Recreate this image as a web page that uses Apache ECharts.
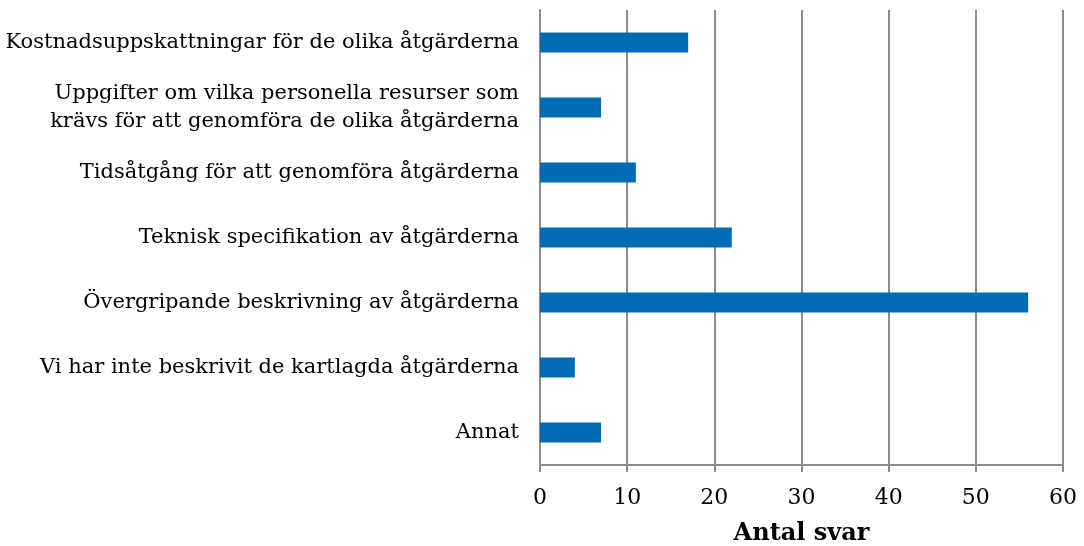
<!DOCTYPE html>
<html lang="sv">
<head>
<meta charset="UTF-8" />
<script src="https://cdn.jsdelivr.net/npm/echarts@6/dist/echarts.min.js"></script>
<style>
  html, body { margin: 0; padding: 0; background: #fff; }
  #chart { width: 1084px; height: 546px; }
</style>
</head>
<body>
<div id="chart"></div>
<script>
// kategorier uppifrån och ned
const categories = [
  'Kostnadsuppskattningar för de olika åtgärderna',
  'Uppgifter om vilka personella resurser som\nkrävs för att genomföra de olika åtgärderna',
  'Tidsåtgång för att genomföra åtgärderna',
  'Teknisk specifikation av åtgärderna',
  'Övergripande beskrivning av åtgärderna',
  'Vi har inte beskrivit de kartlagda åtgärderna',
  'Annat'
];
const values = [17, 7, 11, 22, 56, 4, 7];
const xTicks = [0, 10, 20, 30, 40, 50, 60];

const FONT = '"DejaVu Serif", "Liberation Serif", serif';
const GRID_COLOR = '#8c8c8c';

const chart = echarts.init(document.getElementById('chart'));
chart.setOption({
  animation: false,
  grid: { left: 540, right: 21, top: 10, bottom: 81, containLabel: false, outerBoundsMode: 'none' },
  xAxis: {
    type: 'value',
    min: xTicks[0],
    max: xTicks[xTicks.length - 1],
    interval: 10,
    name: 'Antal svar',
    nameLocation: 'middle',
    nameGap: 57,
    nameTextStyle: { fontFamily: FONT, fontSize: 24, fontWeight: 'bold', color: '#000' },
    axisLine: { show: true, lineStyle: { color: GRID_COLOR, width: 2 } },
    axisTick: { show: true, length: 7, lineStyle: { color: GRID_COLOR, width: 2 } },
    axisLabel: { fontFamily: FONT, fontSize: 22, color: '#000', margin: 22 },
    splitLine: { show: true, lineStyle: { color: GRID_COLOR, width: 2 } }
  },
  yAxis: {
    type: 'category',
    data: categories,
    inverse: true,
    axisLine: { show: true, lineStyle: { color: GRID_COLOR, width: 2 } },
    axisTick: { show: false },
    axisLabel: {
      fontFamily: FONT, fontSize: 21, color: '#000', margin: 21,
      align: 'right', lineHeight: 28
    }
  },
  series: [{
    type: 'bar',
    data: values,
    barWidth: 20,
    itemStyle: { color: '#006cb3' }
  }]
});
</script>
</body>
</html>
